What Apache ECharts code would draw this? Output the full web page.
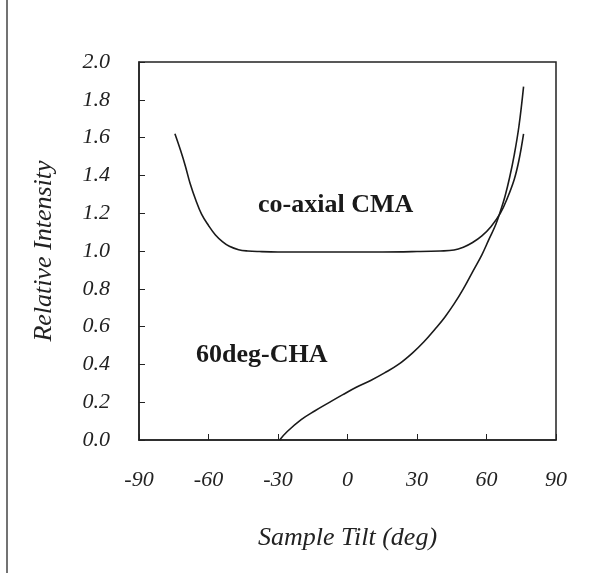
<!DOCTYPE html>
<html>
<head>
<meta charset="utf-8">
<script src="https://cdn.jsdelivr.net/npm/echarts@6/dist/echarts.min.js"></script>
<style>
  html, body { margin: 0; padding: 0; background: #fff; }
  #main { width: 602px; height: 573px; }
</style>
</head>
<body>
<div id="main"></div>
<script>
// co-axial CMA curve (tilt in deg, relative intensity)
let cmaX = [-74.5, -72, -70, -68, -65.5, -63, -60, -57, -54, -51, -47, -43, -38, -30, -15, 0, 15, 30, 40, 46, 50, 54, 58, 62, 66, 69, 72, 74, 76];
let cmaY = [1.62, 1.53, 1.45, 1.36, 1.27, 1.195, 1.135, 1.085, 1.05, 1.025, 1.007, 1.0, 0.997, 0.995, 0.995, 0.995, 0.995, 0.997, 1.0, 1.005, 1.02, 1.045, 1.08, 1.13, 1.2, 1.28, 1.38, 1.48, 1.62];

// 60deg-CHA curve
let chaX = [-29.3, -26, -20, -14, -8, -2, 4, 10, 16, 22, 28, 33, 38, 42, 46, 50, 54, 58, 61, 64, 66, 68, 70, 72, 74, 76];
let chaY = [0.0, 0.045, 0.108, 0.155, 0.198, 0.24, 0.28, 0.315, 0.355, 0.4, 0.46, 0.52, 0.59, 0.65, 0.72, 0.8, 0.89, 0.98, 1.06, 1.14, 1.21, 1.29, 1.39, 1.51, 1.66, 1.87];

let xTicks = [-90, -60, -30, 0, 30, 60, 90];
let yTicks = [0, 0.2, 0.4, 0.6, 0.8, 1.0, 1.2, 1.4, 1.6, 1.8, 2.0];

function pairs(xs, ys) {
    return xs.map(function (x, i) { return [x, ys[i]]; });
}

let myChart = echarts.init(document.getElementById('main'));

let serif = '"Liberation Serif", "DejaVu Serif", serif';

let option = {
    backgroundColor: '#fff',
    animation: false,
    grid: {
        left: 139,
        right: 46,
        top: 62,
        bottom: 133,
        show: true,
        borderColor: '#222',
        borderWidth: 1.5
    },
    xAxis: {
        type: 'value',
        min: xTicks[0],
        max: xTicks[xTicks.length - 1],
        interval: 30,
        name: 'Sample Tilt (deg)',
        nameLocation: 'middle',
        nameGap: 85,
        nameTextStyle: { fontFamily: serif, fontStyle: 'italic', fontSize: 26, color: '#222' },
        axisLine: { show: true, onZero: false, lineStyle: { color: '#222', width: 1.5 } },
        axisTick: { show: true, inside: true, length: 6, lineStyle: { color: '#222' } },
        axisLabel: {
            margin: 29,
            fontFamily: serif, fontStyle: 'italic', fontSize: 22, color: '#222',
            formatter: function (v) { return String(v); }
        },
        splitLine: { show: false }
    },
    yAxis: {
        type: 'value',
        min: yTicks[0],
        max: yTicks[yTicks.length - 1],
        interval: 0.2,
        name: 'Relative Intensity',
        nameLocation: 'middle',
        nameGap: 82,
        nameTextStyle: { fontFamily: serif, fontStyle: 'italic', fontSize: 26, color: '#222' },
        axisLine: { show: true, onZero: false, lineStyle: { color: '#222', width: 1.5 } },
        axisTick: { show: true, inside: true, length: 6, lineStyle: { color: '#222' } },
        axisLabel: {
            margin: 29,
            fontFamily: serif, fontStyle: 'italic', fontSize: 22, color: '#222',
            formatter: function (v) { return v.toFixed(1); }
        },
        splitLine: { show: false }
    },
    series: [
        {
            name: 'co-axial CMA',
            type: 'line',
            data: pairs(cmaX, cmaY),
            smooth: 0.4,
            showSymbol: false,
            lineStyle: { color: '#1a1a1a', width: 1.6 }
        },
        {
            name: '60deg-CHA',
            type: 'line',
            data: pairs(chaX, chaY),
            smooth: 0.4,
            showSymbol: false,
            lineStyle: { color: '#1a1a1a', width: 1.6 }
        }
    ],
    graphic: [
        {
            type: 'text',
            left: 258, top: 192,
            style: { text: 'co-axial CMA', font: 'bold 26px "Liberation Serif", serif', fill: '#1a1a1a' }
        },
        {
            type: 'text',
            left: 196, top: 342,
            style: { text: '60deg-CHA', font: 'bold 26px "Liberation Serif", serif', fill: '#1a1a1a' }
        },
        {
            type: 'line',
            shape: { x1: 7, y1: 0, x2: 7, y2: 573 },
            style: { stroke: '#444', lineWidth: 1.5 }
        }
    ]
};

myChart.setOption(option);
</script>
</body>
</html>
